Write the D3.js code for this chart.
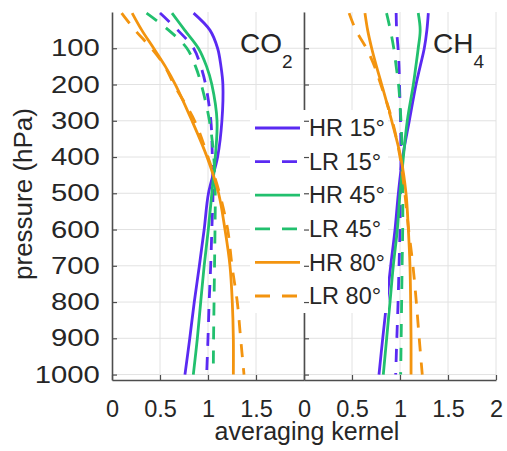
<!DOCTYPE html>
<html>
<head>
<meta charset="utf-8">
<script src="https://cdn.jsdelivr.net/npm/d3@7"></script>
<style type="text/css">
  body{
    margin: 0px;
    background: white;
  }
  text{
    font-family: 'Liberation Sans', Arial, sans-serif;
    fill: #262626;
  }
</style>
</head>
<body>

<script>

// pressure levels (hPa) at which the kernels were read
var pressure = [3, 50, 100, 150, 200, 300, 400, 500, 600, 700, 800, 900, 1000];

// CO2 averaging kernels
var co2HR15 = [0.85, 1.02, 1.10, 1.135, 1.155, 1.145, 1.10, 1.005, 0.96, 0.91, 0.857, 0.81, 0.76];
var co2LR15 = [0.50, 0.685, 0.85, 0.925, 0.975, 1.03, 1.045, 1.052, 1.04, 1.028, 1.012, 1.0, 0.986];
var co2HR45 = [0.625, 0.757, 0.90, 0.985, 1.04, 1.094, 1.076, 1.04, 1.003, 0.96, 0.924, 0.889, 0.847];
var co2LR45 = [0.36, 0.59, 0.78, 0.87, 0.93, 1.015, 1.06, 1.075, 1.073, 1.068, 1.063, 1.058, 1.055];
var co2HR80 = [0.21, 0.31, 0.434, 0.555, 0.66, 0.833, 0.99, 1.11, 1.177, 1.229, 1.253, 1.264, 1.264];
var co2LR80 = [0.10, 0.24, 0.41, 0.55, 0.645, 0.86, 1.0, 1.12, 1.205, 1.25, 1.305, 1.34, 1.375];

// CH4 averaging kernels
var ch4HR15 = [1.295, 1.28, 1.253, 1.21, 1.167, 1.097, 1.028, 0.983, 0.948, 0.903, 0.861, 0.82, 0.781];
var ch4LR15 = [0.96, 0.965, 0.98, 0.99, 0.995, 1.005, 1.01, 1.005, 1.0, 0.99, 0.98, 0.967, 0.955];
var ch4HR45 = [1.19, 1.21, 1.19, 1.165, 1.139, 1.076, 1.035, 1.0, 0.972, 0.93, 0.896, 0.861, 0.826];
var ch4LR45 = [0.86, 0.9, 0.935, 0.96, 0.985, 1.01, 1.025, 1.03, 1.028, 1.022, 1.017, 1.012, 1.007];
var ch4HR80 = [0.635, 0.663, 0.705, 0.755, 0.809, 0.913, 1.007, 1.0625, 1.087, 1.104, 1.111, 1.115, 1.115];
var ch4LR80 = [0.47, 0.54, 0.65, 0.735, 0.80, 0.92, 1.0, 1.05, 1.09, 1.135, 1.17, 1.2, 1.232];

var legendNames = ["HR 15°", "LR 15°", "HR 45°", "LR 45°", "HR 80°", "LR 80°"];

var yTicks = [100, 200, 300, 400, 500, 600, 700, 800, 900, 1000];
var xTicksLeft = [0, 0.5, 1, 1.5];
var xTicksRight = [0, 0.5, 1, 1.5, 2];

var blue = "#5a2af2", green = "#22c06e", orange = "#f3940f";
var styles = [
  {color: blue, dash: null},
  {color: blue, dash: "13,11"},
  {color: green, dash: null},
  {color: green, dash: "13,11"},
  {color: orange, dash: null},
  {color: orange, dash: "13,11"}
];

var width = 507, height = 451;

var svg = d3.select("body").append("svg")
  .attr("width", width)
  .attr("height", height);

var y = d3.scaleLinear().domain([0, 1015]).range([12, 380]);
var xL = d3.scaleLinear().domain([0, 2]).range([112, 304]);
var xR = d3.scaleLinear().domain([0, 2]).range([304, 496]);

var panels = [
  {x: xL, series: [co2HR15, co2LR15, co2HR45, co2LR45, co2HR80, co2LR80]},
  {x: xR, series: [ch4HR15, ch4LR15, ch4HR45, ch4LR45, ch4HR80, ch4LR80]}
];

// grid
panels.forEach(function(pn) {
  var g = svg.append("g").attr("class", "grid");
  g.selectAll(".vg").data([0.5, 1, 1.5, 2]).enter().append("line")
    .attr("x1", function(d) { return pn.x(d); })
    .attr("x2", function(d) { return pn.x(d); })
    .attr("y1", y.range()[0]).attr("y2", y.range()[1])
    .attr("stroke", "#e2e2e2").attr("stroke-width", 1);
  g.selectAll(".hg").data(yTicks).enter().append("line")
    .attr("x1", pn.x.range()[0]).attr("x2", pn.x.range()[1])
    .attr("y1", function(d) { return y(d); })
    .attr("y2", function(d) { return y(d); })
    .attr("stroke", "#e2e2e2").attr("stroke-width", 1);
});

// curves
panels.forEach(function(pn) {
  var line = d3.line()
    .x(function(d) { return pn.x(d[1]); })
    .y(function(d) { return y(d[0]); })
    .curve(d3.curveCatmullRom.alpha(0.5));

  pn.series.forEach(function(vals, i) {
    svg.append("path")
      .datum(d3.zip(pressure, vals))
      .attr("d", line)
      .attr("fill", "none")
      .attr("stroke", styles[i].color)
      .attr("stroke-width", 2.8)
      .attr("stroke-dasharray", styles[i].dash);
  });
});

// axes
var axisColor = "#4d4d4d";
var fmt = function(d) { return String(d); };

var gyL = svg.append("g").attr("transform", "translate(112,0)")
  .call(d3.axisLeft(y).tickValues(yTicks).tickSize(-5).tickSizeOuter(0).tickPadding(10).tickFormat(fmt));
gyL.selectAll("text")
  .attr("transform", "scale(1.22,1)")
  .style("font-size", "24px");

var gyR = svg.append("g").attr("transform", "translate(304,0)")
  .call(d3.axisLeft(y).tickValues(yTicks).tickSize(-5).tickSizeOuter(0).tickFormat(""));

var gxL = svg.append("g").attr("transform", "translate(0,380)")
  .call(d3.axisBottom(xL).tickValues(xTicksLeft).tickSize(-5).tickSizeOuter(0).tickPadding(20).tickFormat(fmt));
var gxR = svg.append("g").attr("transform", "translate(0,380)")
  .call(d3.axisBottom(xR).tickValues(xTicksRight).tickSize(-5).tickSizeOuter(0).tickPadding(20).tickFormat(fmt));

[gxL, gxR].forEach(function(g) {
  g.selectAll("text").style("font-size", "23.5px");
});

[gyL, gyR, gxL, gxR].forEach(function(g) {
  g.select(".domain").attr("stroke", axisColor).attr("stroke-width", 1.6);
  g.selectAll(".tick line").attr("stroke", axisColor).attr("stroke-width", 1.2);
  g.selectAll("text").style("fill", "#262626").style("font-family", "'Liberation Sans', Arial, sans-serif");
});

// legend
var legend = svg.append("g");
legend.append("rect")
  .attr("x", 250).attr("y", 110)
  .attr("width", 138).attr("height", 203)
  .attr("fill", "white");

// right-axis ticks show over the legend box
svg.append("g").attr("transform", "translate(304,0)")
  .call(d3.axisLeft(y).tickValues([300, 400, 500, 600, 700, 800]).tickSize(-5).tickSizeOuter(0).tickFormat(""))
  .call(function(g) {
    g.select(".domain").remove();
    g.selectAll(".tick line").attr("stroke", axisColor).attr("stroke-width", 1.2);
  });

legendNames.forEach(function(name, i) {
  var cy = 128 + i * 33.6;
  legend.append("line")
    .attr("x1", 255).attr("x2", 300)
    .attr("y1", cy).attr("y2", cy)
    .attr("stroke", styles[i].color)
    .attr("stroke-width", 2.8)
    .attr("stroke-dasharray", styles[i].dash ? "15,12" : null);
  legend.append("text")
    .attr("x", 309).attr("y", cy)
    .attr("dy", "0.35em")
    .style("font-size", "23.5px")
    .text(name);
});

// panel titles
var t1 = svg.append("text").attr("x", 240).attr("y", 53).style("font-size", "28px");
t1.append("tspan").text("CO");
t1.append("tspan").attr("dy", 15).style("font-size", "19px").text("2");

var t2 = svg.append("text").attr("x", 433).attr("y", 53).style("font-size", "28px");
t2.append("tspan").text("CH");
t2.append("tspan").attr("dy", 15).style("font-size", "19px").text("4");

// axis labels
svg.append("text")
  .attr("transform", "translate(32,194) rotate(-90)")
  .attr("text-anchor", "middle")
  .style("font-size", "26px")
  .text("pressure (hPa)");

svg.append("text")
  .attr("x", 307).attr("y", 440)
  .attr("text-anchor", "middle")
  .style("font-size", "25px")
  .text("averaging kernel");

</script>

</body>
</html>
